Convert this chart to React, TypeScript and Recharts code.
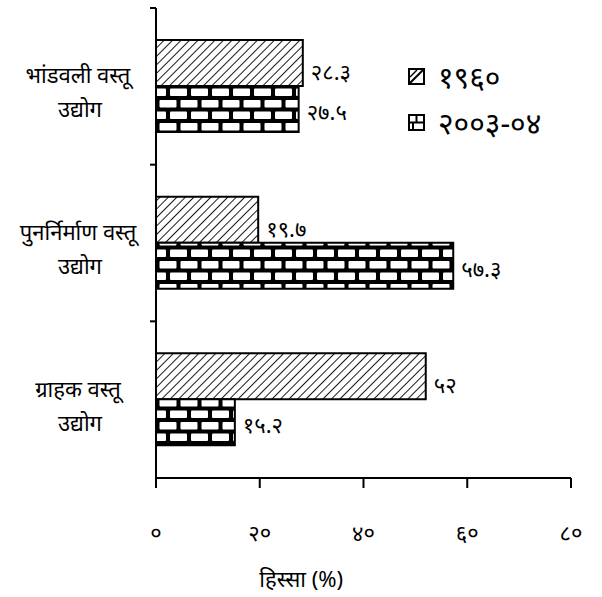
import React from 'react';
import { BarChart, Bar, XAxis, YAxis, LabelList, Label } from 'recharts';

// data
const categories = ['भांडवली वस्तू उद्योग', 'पुनर्निर्माण वस्तू उद्योग', 'ग्राहक वस्तू उद्योग'];
const share1960 = [28.3, 19.7, 52];
const share2003 = [27.5, 57.3, 15.2];
const seriesNames = ['१९६०', '२००३-०४'];
const xTicks = [0, 20, 40, 60, 80];
const axisTitle = 'हिस्सा (%)';

const W = 602;
const H = 597;
const MARGIN = { top: 8, right: 31, bottom: 39, left: 0 };
const X_AXIS_H = 80;
const Y_AXIS_W = 156;
const FONT = '"Noto Sans", "DejaVu Sans", sans-serif';

const DEV = '०१२३४५६७८९';
const toDev = (v: number | string) => String(v).replace(/\d/g, (d) => DEV[Number(d)]);

const data = categories.map((name, i) => ({
    name,
    y1960: share1960[i],
    y2003: share2003[i],
}));

const bandSize = (H - MARGIN.top - MARGIN.bottom - X_AXIS_H) / categories.length;

function CategoryTick(props: any) {
    const { x, y, payload } = props;
    const text: string = payload.value;
    const cut = text.lastIndexOf(' ');
    const line1 = text.slice(0, cut);
    const line2 = text.slice(cut + 1);
    return (
        <g>
            <line x1={x - 6} x2={x} y1={y - bandSize / 2} y2={y - bandSize / 2} stroke="#000" strokeWidth={2} />
            <text x={x - 78} y={y - 12} textAnchor="middle" dominantBaseline="central" fontSize={22} fill="#000" fontFamily={FONT}>
                {line1}
            </text>
            <text x={x - 76} y={y + 22} textAnchor="middle" dominantBaseline="central" fontSize={22} fill="#000" fontFamily={FONT}>
                {line2}
            </text>
        </g>
    );
}

function ValueTick(props: any) {
    const { x, y, payload } = props;
    return (
        <text x={x} y={y + 42} textAnchor="middle" dominantBaseline="central" fontSize={22} fill="#000" fontFamily={FONT}>
            {toDev(payload.value)}
        </text>
    );
}

const makeValueLabel = (dy: number) => (props: any) => {
    const { x, y, width, height, value } = props;
    return (
        <text x={x + width + 8} y={y + height / 2 + dy} dominantBaseline="central" fontSize={22} fill="#000" fontFamily={FONT}>
            {toDev(value)}
        </text>
    );
};

function LegendIcon({ kind }: { kind: 'hatch' | 'brick' }) {
    return (
        <svg width={17} height={17} style={{ display: 'block' }}>
            <rect x={1} y={1} width={15} height={15} fill="#fff" stroke="#000" strokeWidth={2} />
            {kind === 'hatch' ? (
                <>
                    <line x1={2} y1={15} x2={15} y2={2} stroke="#000" strokeWidth={2} />
                    <line x1={2} y1={9} x2={9} y2={2} stroke="#000" strokeWidth={1.5} />
                </>
            ) : (
                <>
                    <line x1={1} y1={8.5} x2={16} y2={8.5} stroke="#000" strokeWidth={2} />
                    <line x1={8.5} y1={1} x2={8.5} y2={8.5} stroke="#000" strokeWidth={2} />
                    <line x1={5} y1={8.5} x2={5} y2={16} stroke="#000" strokeWidth={2} />
                </>
            )}
        </svg>
    );
}

export default function App() {
    return (
        <div style={{ position: 'relative', width: W, height: H, background: '#fff' }}>
            <style>{`body{margin:0}`}</style>
            <BarChart
                width={W}
                height={H}
                data={data}
                layout="vertical"
                margin={MARGIN}
                barSize={46}
                barGap={0}
            >
                <defs>
                    <pattern id="hatch" width={6} height={6} patternUnits="userSpaceOnUse" patternTransform="rotate(45)">
                        <rect width={6} height={6} fill="#fff" />
                        <line x1={0} y1={0} x2={0} y2={6} stroke="#000" strokeWidth={1.8} />
                    </pattern>
                    <pattern id="brick" width={21} height={23} patternUnits="userSpaceOnUse" y={40}>
                        <rect width={21} height={23} fill="#000" />
                        <rect x={2} y={2.5} width={17} height={7.5} rx={1} fill="#fff" />
                        <rect x={-8.5} y={14} width={17} height={7.5} rx={1} fill="#fff" />
                        <rect x={12.5} y={14} width={17} height={7.5} rx={1} fill="#fff" />
                    </pattern>
                </defs>
                <XAxis
                    type="number"
                    domain={[0, 80]}
                    ticks={xTicks}
                    height={X_AXIS_H}
                    axisLine={{ stroke: '#000', strokeWidth: 2 }}
                    tickLine={{ stroke: '#000', strokeWidth: 2 }}
                    tickSize={10}
                    tick={<ValueTick />}
                    interval={0}
                >
                    <Label
                        content={(p: any) => {
                            const vb = p.viewBox;
                            return (
                                <text
                                    x={vb.x + vb.width * 0.35}
                                    y={vb.y + 100}
                                    textAnchor="middle"
                                    dominantBaseline="central"
                                    fontSize={22}
                                    fill="#000"
                                    fontFamily={FONT}
                                >
                                    {axisTitle}
                                </text>
                            );
                        }}
                    />
                </XAxis>
                <YAxis
                    type="category"
                    dataKey="name"
                    width={Y_AXIS_W}
                    axisLine={{ stroke: '#000', strokeWidth: 2 }}
                    tickLine={false}
                    tickSize={0}
                    tickMargin={0}
                    tick={<CategoryTick />}
                    interval={0}
                />
                <Bar dataKey="y1960" name={seriesNames[0]} fill="url(#hatch)" stroke="#000" strokeWidth={2} isAnimationActive={false}>
                    <LabelList dataKey="y1960" content={makeValueLabel(8)} />
                </Bar>
                <Bar dataKey="y2003" name={seriesNames[1]} fill="url(#brick)" stroke="#000" strokeWidth={2} isAnimationActive={false}>
                    <LabelList dataKey="y2003" content={makeValueLabel(2)} />
                </Bar>
            </BarChart>
            <div style={{ position: 'absolute', left: 408, top: 67, fontFamily: FONT, fontSize: 30, color: '#000' }}>
                <div style={{ display: 'flex', alignItems: 'center', gap: 13, height: 18 }}>
                    <LegendIcon kind="hatch" />
                    <span>{seriesNames[0]}</span>
                </div>
                <div style={{ display: 'flex', alignItems: 'center', gap: 13, height: 18, marginTop: 28 }}>
                    <LegendIcon kind="brick" />
                    <span>{seriesNames[1]}</span>
                </div>
            </div>
        </div>
    );
}
